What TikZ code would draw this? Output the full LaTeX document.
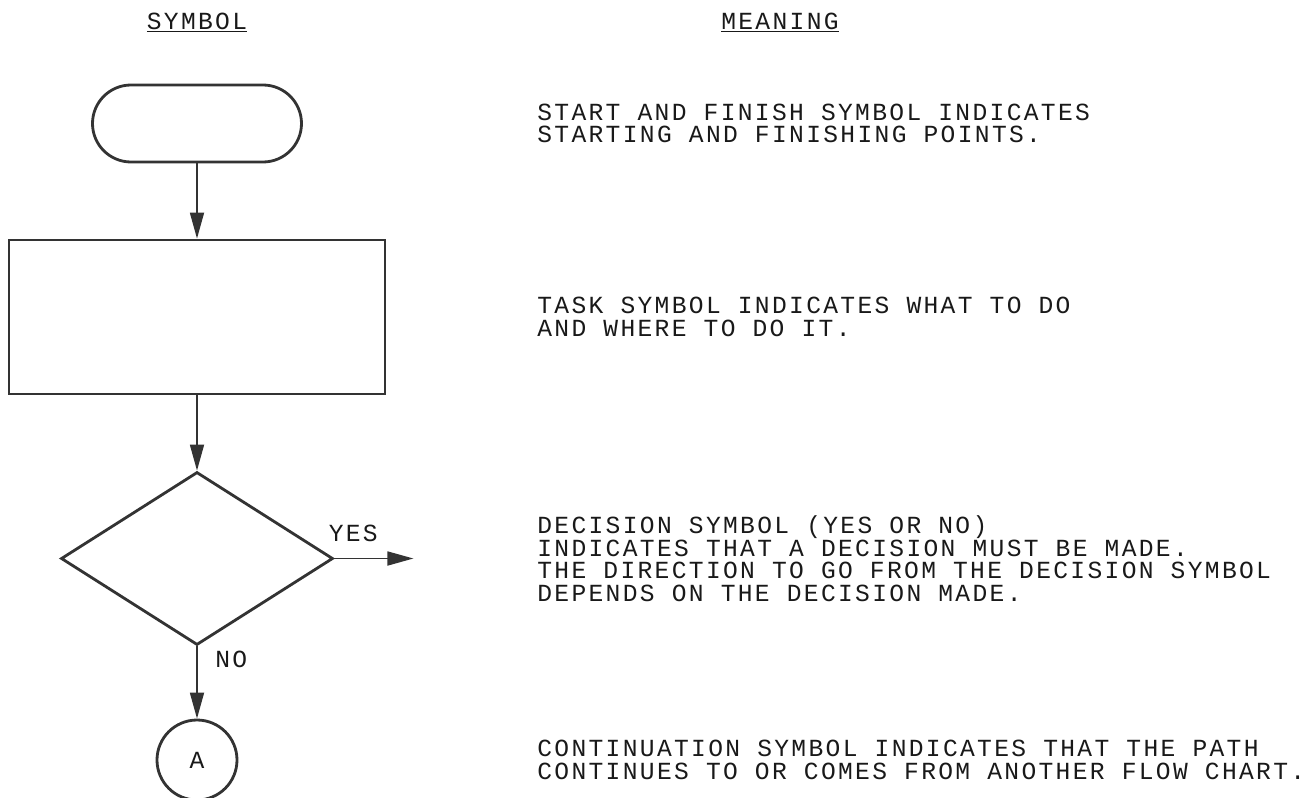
\documentclass[tikz,border=0pt]{standalone}
\usepackage{fontspec}
\setmainfont[LetterSpace=9.5]{Liberation Mono}
\usetikzlibrary{shapes.geometric,shapes.misc,arrows.meta,calc}

\begin{document}
\begin{tikzpicture}[
    node distance=4cm,
    every node/.style={
        font=\fontsize{14}{12.8}\selectfont,
        text=black!90
    },
    symbol/.style={
        draw=black!80,
        line width=1.6pt,
        inner sep=0pt
    },
    terminal/.style={
        symbol,
        rounded rectangle,
        minimum width=4.18cm,
        minimum height=1.54cm
    },
    task/.style={
        symbol,
        rectangle,
        minimum width=7.52cm,
        minimum height=3.08cm
    },
    decision/.style={
        symbol,
        diamond,
        minimum width=5.44cm,
        minimum height=3.46cm
    },
    connector/.style={
        symbol,
        circle,
        minimum size=1.6cm
    },
    meaning/.style={
        anchor=west,
        align=left,
        inner sep=0pt
    },
    heading/.style={
        anchor=base,
        inner sep=0pt
    },
    arrow/.style={
        -{Triangle[length=0.52cm,width=0.28cm]},
        line width=1pt,
        draw=black!80
    }
]

\useasboundingbox (0,0) rectangle (26.32,-15.96);

% --- Column headings ---
\node[heading] (H1) at (3.94,-0.58) {\underline{SYMBOL}};
\node[heading] (H2) at (15.6,-0.58) {\underline{MEANING}};

% --- Symbols (vertical stack) ---
\node[terminal] (A) at (3.94,-2.47) {};
\node[task, below of=A, node distance=3.87cm] (B) {};
\node[decision, below of=B, node distance=4.83cm] (C) {};
\node[connector, below of=C, node distance=4.03cm] (D) {A};

\draw[arrow] (A) -- (B);
\draw[arrow] (B) -- (C);
\draw[arrow] (C) -- (D);

% --- Decision outputs ---
\coordinate (Y) at ($(C.east)+(1.58,0)$);
\draw[arrow] (C.east) -- (Y);
\node[anchor=west, inner sep=0pt] (YES) at ($(C.east)+(-0.12,0.5)$) {YES};
\node[anchor=west, inner sep=0pt] (NO) at ($(C.south)+(0.36,-0.25)$) {NO};

% --- Meanings (aligned with each symbol) ---
\node[meaning] (E) at (10.74,0 |- A) {START AND FINISH SYMBOL INDICATES\\STARTING AND FINISHING POINTS.};
\node[meaning] (F) at (10.74,0 |- B) {TASK SYMBOL INDICATES WHAT TO DO\\AND WHERE TO DO IT.};
\node[meaning] (G) at (10.74,0 |- C) {DECISION SYMBOL (YES OR NO)\\INDICATES THAT A DECISION MUST BE MADE.\\THE DIRECTION TO GO FROM THE DECISION SYMBOL\\DEPENDS ON THE DECISION MADE.};
\node[meaning] (K) at (10.74,0 |- D) {CONTINUATION SYMBOL INDICATES THAT THE PATH\\CONTINUES TO OR COMES FROM ANOTHER FLOW CHART.};

\end{tikzpicture}
\end{document}
